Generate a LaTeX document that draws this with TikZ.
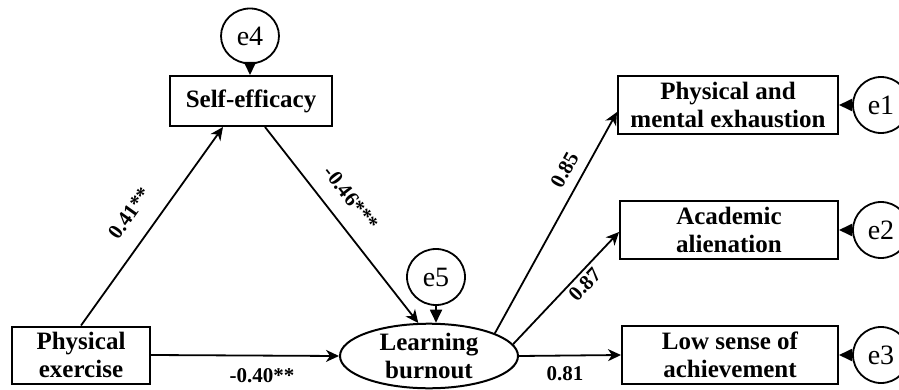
\documentclass[tikz,border=0pt]{standalone}
\usepackage{fontspec}
\setmainfont{Liberation Serif}
\usetikzlibrary{arrows.meta,shapes.geometric}
\begin{document}
\begin{tikzpicture}[x=0.5pt,y=-0.5pt,
  box/.style={draw,line width=1pt,rectangle,align=center,font=\fontsize{12.5}{14}\selectfont\bfseries,inner sep=0pt},
  lat/.style={draw,line width=1pt,ellipse,align=center,font=\fontsize{12.5}{14}\selectfont\bfseries,inner sep=0pt},
  errc/.style={draw,line width=0.9pt,ellipse,inner sep=0pt,minimum width=29pt,minimum height=28pt,font=\fontsize{14}{15}\selectfont},
  path/.style={line width=0.9pt,-{Stealth[length=6.5pt,width=6pt,inset=2pt]}},
  err/.style={line width=0.9pt,-{Triangle[length=6.5pt,width=6pt]}},
  lab/.style={font=\fontsize{10.5}{12}\selectfont\bfseries,inner sep=1pt}]
\useasboundingbox (0,0) rectangle (899,390);
% observed / latent nodes
\node[box,minimum width=81pt,minimum height=25pt] (SE) at (251,101) {Self-efficacy};
\node[box,minimum width=69pt,minimum height=28.5pt] (PE) at (81,355) {Physical\\exercise};
\node[lat,minimum width=89pt,minimum height=32pt] (LB) at (429,356) {Learning\\burnout};
\node[box,minimum width=110pt,minimum height=29pt] (PME) at (728,105) {Physical and\\mental exhaustion};
\node[box,minimum width=109pt,minimum height=29pt] (AA) at (729,230) {Academic\\alienation};
\node[box,minimum width=108pt,minimum height=29pt] (LSA) at (730,355) {Low sense of\\achievement};
% error terms
\node[errc,minimum height=27.5pt] (e4) at (250,36) {e4};
\node[errc] (e5) at (436,277) {e5};
\node[errc,minimum width=28pt] (e1) at (881,105) {e1};
\node[errc,minimum width=28pt] (e2) at (881,230) {e2};
\node[errc,minimum width=28pt] (e3) at (881,355) {e3};
% structural paths
\draw[path] (PE.north) -- node[lab,sloped,pos=0.49,above=8pt] {0.41**} ([xshift=-14pt]SE.south);
\draw[path] ([xshift=7pt]SE.south) -- node[lab,sloped,pos=0.44,above=7pt] {-0.46***} (LB.108);
\draw[path] (PE.east) -- node[lab,pos=0.59,below=5pt] {-0.40**} (LB.west);
\draw[path] (LB.19) -- node[lab,sloped,pos=0.70,above=4pt] {0.85} ([yshift=-3.5pt]PME.west);
\draw[path] (LB.8) -- node[lab,sloped,pos=0.60,below=0.5pt] {0.87} ([yshift=-1pt]AA.west);
\draw[path] (LB.east) -- node[lab,pos=0.45,below=4pt] {0.81} (LSA.west);
% error arrows
\draw[err] (e4.south) -- (e4.south |- SE.north);
\draw[err] (e5.south) -- (e5.south |- LB.north);
\draw[err] (e1) -- (PME);
\draw[err] (e2) -- (AA);
\draw[err] (e3) -- (LSA);
\end{tikzpicture}
\end{document}
